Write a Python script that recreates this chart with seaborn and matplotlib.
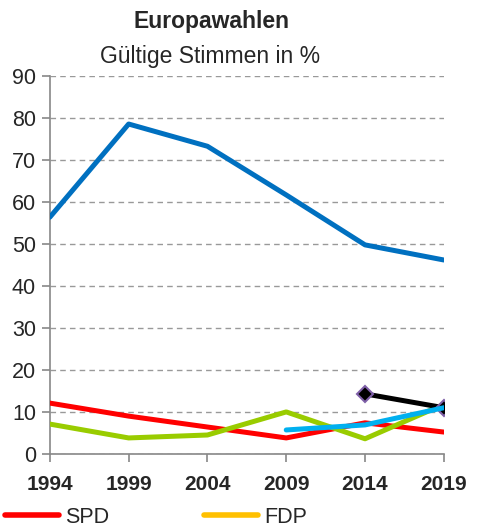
import numpy as np
import pandas as pd
import seaborn as sns
import matplotlib.pyplot as plt
from matplotlib.lines import Line2D

# data
years = [1994, 1999, 2004, 2009, 2014, 2019]
blue_vals = [56.4, 78.6, 73.3, 61.7, 49.8, 46.2]
spd_vals = [12.1, 9.0, 6.4, 3.8, 7.4, 5.2]
green_vals = [7.1, 3.8, 4.5, 10.0, 3.6, 11.8]
lightblue_years = [2009, 2014, 2019]
lightblue_vals = [5.7, 6.9, 11.0]
black_years = [2014, 2019]
black_vals = [14.3, 11.0]
yticks = [0, 10, 20, 30, 40, 50, 60, 70, 80, 90]

sns.set_style("white")
plt.rcParams['font.family'] = ['Liberation Sans', 'DejaVu Sans']

fig = plt.figure(figsize=(4.84, 5.29), dpi=100)
ax = fig.add_axes([0.103, 0.142, 0.814, 0.714])

sns.lineplot(x=years, y=blue_vals, ax=ax, color='#0070C0', linewidth=3.6, zorder=3)
sns.lineplot(x=years, y=spd_vals, ax=ax, color='#FF0000', linewidth=3.6, zorder=3)
sns.lineplot(x=years, y=green_vals, ax=ax, color='#99CC00', linewidth=3.6, zorder=3)
sns.lineplot(x=black_years, y=black_vals, ax=ax, color='black', linewidth=3.6, zorder=4,
             marker='D', markersize=8, markerfacecolor='black',
             markeredgecolor='#7F60A8', markeredgewidth=1.5)
sns.lineplot(x=lightblue_years, y=lightblue_vals, ax=ax, color='#00B0F0', linewidth=3.6, zorder=5)

ax.set_xlim(1994, 2019)
ax.set_ylim(0, 90)
ax.set_xticks(years)
ax.set_yticks(yticks)
ax.set_xticklabels([str(y) for y in years], fontweight='bold', fontsize=15)
ax.set_yticklabels([str(v) for v in yticks], fontsize=15.5)
ax.tick_params(axis='both', direction='out', length=6, color='#888888', width=1.2)
ax.tick_params(axis='y', left=True, pad=4)
ax.tick_params(axis='x', bottom=True, pad=9)

ax.grid(axis='y', linestyle=(0, (4, 3)), color='#999999', linewidth=1)
ax.set_axisbelow(True)
for side in ['top', 'right']:
    ax.spines[side].set_visible(False)
for side in ['left', 'bottom']:
    ax.spines[side].set_color('#888888')
    ax.spines[side].set_linewidth(1.2)
ax.set_xlabel('')
ax.set_ylabel('')

fig.text(0.436, 0.960, 'Europawahlen', ha='center', va='center', fontsize=16.5, fontweight='bold')
fig.text(0.433, 0.893, 'Gültige Stimmen in %', ha='center', va='center', fontsize=16.5)

handles = [Line2D([], [], color='#FF0000', linewidth=4, solid_capstyle='round'),
           Line2D([], [], color='#FFC000', linewidth=4, solid_capstyle='round')]
fig.legend(handles, ['SPD', 'FDP'], loc='center left', bbox_to_anchor=(-0.012, 0.022),
           ncol=2, frameon=False, fontsize=15.5, handlelength=2.5, handletextpad=0.3,
           columnspacing=4.4, borderpad=0)

fig.savefig('out.png', dpi=100)
